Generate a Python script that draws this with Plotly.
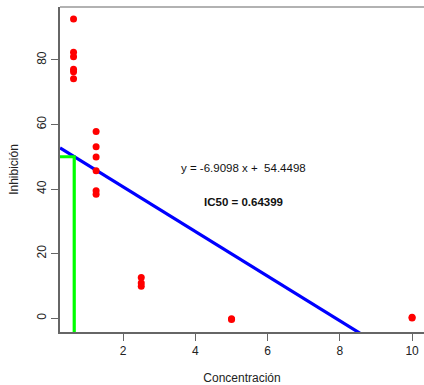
import numpy as np
import plotly.graph_objects as go

# Data
concentracion = [0.625]*6 + [1.25]*6 + [2.5]*3 + [5]*2 + [10]*2
inhibicion = [92.7, 82.4, 81.0, 77.1, 76.3, 74.2,
              57.8, 53.1, 49.9, 45.7, 39.5, 38.4,
              12.6, 10.9, 9.9,
              -0.4, -0.2,
              0.3, 0.0]
pendiente = -6.9098
intercepto = 54.4498
ic50 = 0.64399
nivel = 50

x_range = [0.25, 10.33]
y_range = [-4.3, 96.4]

fig = go.Figure()

# regression line across the whole axis range (clipped to the plot area)
xl = np.array(x_range)
fig.add_trace(go.Scatter(x=xl, y=pendiente*xl + intercepto, mode="lines",
                         line=dict(color="#0000ff", width=3.2), hoverinfo="skip"))
# IC50 guide lines
fig.add_trace(go.Scatter(x=[x_range[0], ic50, ic50], y=[nivel, nivel, y_range[0]],
                         mode="lines", line=dict(color="#00ff00", width=3.2), hoverinfo="skip"))
# points
fig.add_trace(go.Scatter(x=concentracion, y=inhibicion, mode="markers",
                         marker=dict(color="#ff0000", size=7, line=dict(width=0))))

font = dict(family="Liberation Sans, Arial, sans-serif", size=12, color="#222")

fig.add_annotation(x=5.32, y=46.4, text="y = -6.9098 x +  54.4498", showarrow=False,
                   font=dict(family="Liberation Sans, Arial, sans-serif", size=11.5, color="#111"))
fig.add_annotation(x=5.32, y=35.9, text="<b>IC50 = 0.64399</b>", showarrow=False,
                   font=dict(family="Liberation Sans, Arial, sans-serif", size=11.5, color="#111"))

# top frame line (box)
fig.add_shape(type="line", xref="paper", yref="paper", x0=0, x1=1, y0=1, y1=1,
              line=dict(color="#999", width=1.5))

fig.update_layout(
    width=424, height=385,
    margin=dict(l=60, r=0, t=7, b=53),
    plot_bgcolor="white", paper_bgcolor="white",
    showlegend=False, font=font,
)
fig.update_xaxes(range=x_range, tickvals=[2, 4, 6, 8, 10], ticks="outside", ticklen=7,
                 tickcolor="#666", showline=True, linecolor="#666", linewidth=1.5,
                 showgrid=False, zeroline=False,
                 title=dict(text="Concentración", standoff=16, font=font))
fig.update_yaxes(range=y_range, tickvals=[0, 20, 40, 60, 80], ticks="outside", ticklen=7,
                 tickcolor="#666", showline=True, linecolor="#666", linewidth=1.5,
                 showgrid=False, zeroline=False, tickangle=-90,
                 title=dict(text="Inhibición", standoff=14, font=font))

fig.write_html("out.html")
